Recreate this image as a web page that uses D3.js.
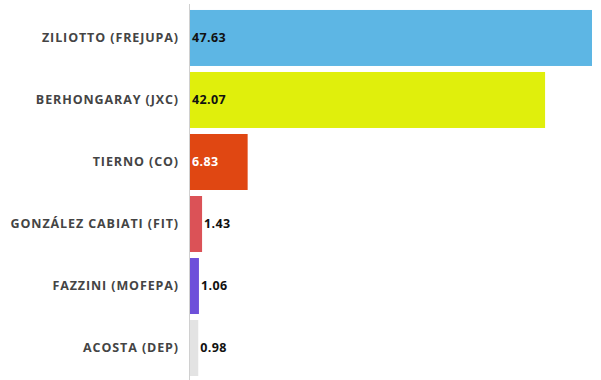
<!DOCTYPE html>
<html><head><meta charset="utf-8">
<script src="https://cdn.jsdelivr.net/npm/d3@7"></script>
<style>body{margin:0;background:#fff;}svg{display:block;}</style>
</head><body>
<script>
const categories = ["ZILIOTTO (FREJUPA)","BERHONGARAY (JXC)","TIERNO (CO)","GONZÁLEZ CABIATI (FIT)","FAZZINI (MOFEPA)","ACOSTA (DEP)"];
const values = [47.63, 42.07, 6.83, 1.43, 1.06, 0.98];
const colors = ["#5DB6E4","#E0EF0C","#E04712","#DB5257","#6E50DA","#E3E3E3"];
const labelColors = ["#111","#111","#fff","#111","#111","#111"];

const W = 601, H = 380;
const svg = d3.select("body").append("svg").attr("width", W).attr("height", H);
const x = d3.scaleLinear().domain([0, d3.max(values)]).range([190, 592]);
const y = d3.scaleBand().domain(categories).range([7, 379]).paddingInner(0.097).paddingOuter(0.048);

svg.append("line").attr("x1",189.5).attr("x2",189.5).attr("y1",4).attr("y2",380)
  .attr("stroke","#d0d0d0").attr("stroke-width",1);

const g = svg.selectAll("g.bar").data(categories).join("g").attr("class","bar");
g.append("rect")
  .attr("x", x(0))
  .attr("y", d => y(d))
  .attr("width", (d,i) => x(values[i]) - x(0))
  .attr("height", y.bandwidth())
  .attr("fill", (d,i) => colors[i]);

g.append("text")
  .attr("x", 179)
  .attr("y", d => y(d) + y.bandwidth()/2)
  .attr("dy","0.35em")
  .attr("text-anchor","end")
  .attr("font-family","'Open Sans', sans-serif")
  .attr("font-weight",700)
  .attr("font-size",12.5)
  .attr("letter-spacing","0.9px")
  .attr("fill","#444")
  .text(d => d);

g.append("text")
  .attr("x", (d,i) => (x(values[i]) - x(0) > 40) ? x(0) + 2 : x(values[i]) + 2)
  .attr("y", d => y(d) + y.bandwidth()/2)
  .attr("dy","0.35em")
  .attr("font-family","'Open Sans', sans-serif")
  .attr("font-weight",700)
  .attr("font-size",12.5)
  .attr("letter-spacing","0.4px")
  .attr("fill", (d,i) => (x(values[i]) - x(0) > 40) ? labelColors[i] : "#111")
  .text((d,i) => values[i].toFixed(2));
</script>
</body></html>
